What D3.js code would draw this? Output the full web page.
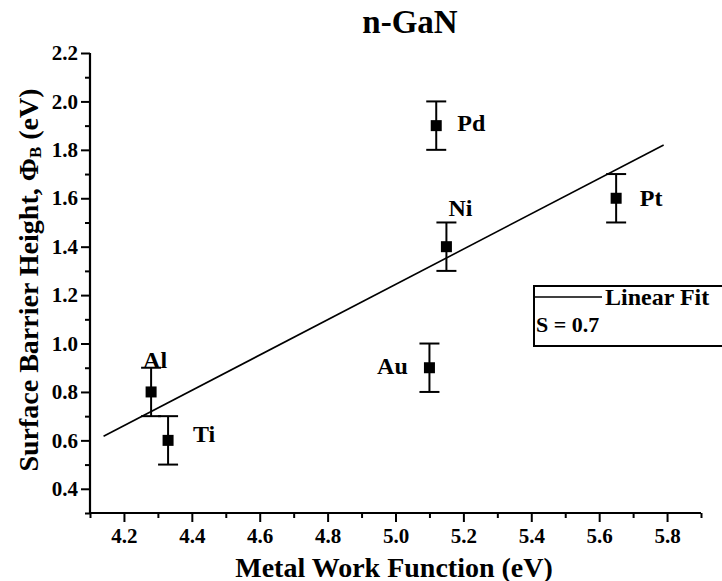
<!DOCTYPE html>
<html><head><meta charset="utf-8">
<script src="https://cdn.jsdelivr.net/npm/d3@7"></script>
<style>
body{margin:0;background:#fff;}
svg{display:block;}
text{font-family:"Liberation Serif","Times New Roman",serif;font-weight:bold;fill:#000;}
</style></head>
<body>
<svg id="c" width="722" height="581"></svg>
<script>
// Data
const metals = ["Al", "Ti", "Au", "Pd", "Ni", "Pt"];
const workFunction = [4.28, 4.33, 5.10, 5.12, 5.15, 5.65];
const barrierHeight = [0.80, 0.60, 0.90, 1.90, 1.40, 1.60];
const errorBar = [0.10, 0.10, 0.10, 0.10, 0.10, 0.10];
const fitX = [4.14, 5.79];
const fitSlope = 0.729;
const fitIntercept = -2.401;
const xMajorTicks = [4.2, 4.4, 4.6, 4.8, 5.0, 5.2, 5.4, 5.6, 5.8];
const xMinorTicks = [4.1, 4.3, 4.5, 4.7, 4.9, 5.1, 5.3, 5.5, 5.7, 5.9];
const yMajorTicks = [0.4, 0.6, 0.8, 1.0, 1.2, 1.4, 1.6, 1.8, 2.0, 2.2];
const yMinorTicks = [0.3, 0.5, 0.7, 0.9, 1.1, 1.3, 1.5, 1.7, 1.9, 2.1];
const labelOffsets = [[4, -32], [36, -6], [-37, -2], [35, -3], [14, -39], [35, 0]];

const svg = d3.select("#c");
const x = d3.scaleLinear().domain([4.1, 5.9]).range([90, 701]);
const y = d3.scaleLinear().domain([0.3, 2.2]).range([513, 53]);

// axes
const fmt = d3.format(".1f");
const gx = svg.append("g").attr("transform", `translate(0,${y(0.3)})`);
gx.call(d3.axisBottom(x).tickValues(xMajorTicks).tickSize(9).tickPadding(6).tickFormat(fmt));
const gxm = svg.append("g").attr("transform", `translate(0,${y(0.3)})`);
gxm.call(d3.axisBottom(x).tickValues(xMinorTicks).tickSize(5).tickFormat(""));
const gy = svg.append("g").attr("transform", `translate(${x(4.1)},0)`);
gy.call(d3.axisLeft(y).tickValues(yMajorTicks).tickSize(9).tickPadding(3).tickFormat(fmt));
const gym = svg.append("g").attr("transform", `translate(${x(4.1)},0)`);
gym.call(d3.axisLeft(y).tickValues(yMinorTicks).tickSize(5).tickFormat(""));
[gx, gxm, gy, gym].forEach(g => {
  g.selectAll("path.domain").attr("stroke", "#000").attr("stroke-width", 2.2);
  g.selectAll(".tick line").attr("stroke", "#000").attr("stroke-width", 2);
  g.selectAll(".tick text").style("font-family", '"Liberation Serif",serif').style("font-weight", "bold").style("font-size", "21px").attr("fill", "#000");
});
gx.selectAll("path.domain").attr("d", `M${x(4.1)},0H${x(5.9)}`);
gxm.selectAll("path.domain").remove();
gy.selectAll("path.domain").attr("d", `M0,${y(0.3)}V${y(2.2)}`);
gym.selectAll("path.domain").remove();

// fit line
svg.append("line")
  .attr("x1", x(fitX[0])).attr("y1", y(fitIntercept + fitSlope * fitX[0]))
  .attr("x2", x(fitX[1])).attr("y2", y(fitIntercept + fitSlope * fitX[1]))
  .attr("stroke", "#000").attr("stroke-width", 1.6);

// error bars and markers
const data = metals.map((m, i) => ({m, x: workFunction[i], y: barrierHeight[i], e: errorBar[i], off: labelOffsets[i]}));
const pts = svg.append("g");
data.forEach(d => {
  const cx = x(d.x);
  pts.append("line").attr("x1", cx).attr("x2", cx).attr("y1", y(d.y - d.e)).attr("y2", y(d.y + d.e)).attr("stroke", "#000").attr("stroke-width", 2);
  [d.y - d.e, d.y + d.e].forEach(v => {
    pts.append("line").attr("x1", cx - 10).attr("x2", cx + 10).attr("y1", y(v)).attr("y2", y(v)).attr("stroke", "#000").attr("stroke-width", 2);
  });
  pts.append("rect").attr("x", cx - 5.5).attr("y", y(d.y) - 5.5).attr("width", 11).attr("height", 11).attr("fill", "#000");
  pts.append("text").attr("x", cx + d.off[0]).attr("y", y(d.y) + d.off[1]).attr("text-anchor", "middle").attr("dominant-baseline", "central").style("font-size", "24px").text(d.m);
});

// legend
const lg = svg.append("g");
lg.append("rect").attr("x", 534).attr("y", 286).attr("width", 200).attr("height", 60).attr("fill", "#fff").attr("stroke", "#000").attr("stroke-width", 2);
lg.append("line").attr("x1", 535).attr("x2", 602).attr("y1", 297).attr("y2", 297).attr("stroke", "#000").attr("stroke-width", 1.6);
lg.append("text").attr("x", 605).attr("y", 297).attr("dominant-baseline", "central").style("font-size", "24px").text("Linear Fit");
lg.append("text").attr("x", 536).attr("y", 324).attr("dominant-baseline", "central").style("font-size", "22px").text("S = 0.7");

// titles
svg.append("text").attr("x", 410).attr("y", 22).attr("text-anchor", "middle").attr("dominant-baseline", "central").style("font-size", "33px").text("n-GaN");
svg.append("text").attr("x", 394).attr("y", 567).attr("text-anchor", "middle").attr("dominant-baseline", "central").style("font-size", "28px").text("Metal Work Function (eV)");
const yl = svg.append("text").attr("transform", "translate(28,280) rotate(-90)").attr("text-anchor", "middle").attr("dominant-baseline", "central").style("font-size", "28px");
yl.append("tspan").text("Surface Barrier Height, Φ");
yl.append("tspan").attr("dy", 7).style("font-size", "17px").text("B");
yl.append("tspan").attr("dy", -7).text(" (eV)");
</script>
</body></html>
